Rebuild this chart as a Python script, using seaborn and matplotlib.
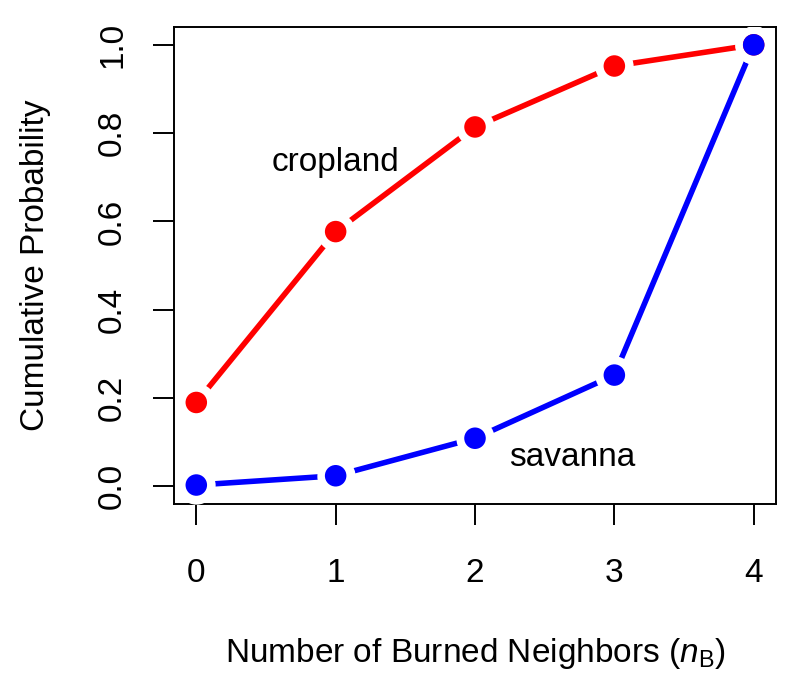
import matplotlib
matplotlib.use("Agg")
import matplotlib.pyplot as plt
import seaborn as sns
import pandas as pd

# data
n_burned = [0, 1, 2, 3, 4]
cropland = [0.190, 0.577, 0.814, 0.952, 1.000]
savanna = [0.003, 0.024, 0.109, 0.252, 1.000]

df = pd.DataFrame({
    "n": n_burned * 2,
    "p": cropland + savanna,
    "type": ["cropland"] * 5 + ["savanna"] * 5,
})
colors = {"cropland": "#FF0000", "savanna": "#0000FF"}

sns.set_style("white")
plt.rcParams["font.family"] = ["Liberation Sans", "DejaVu Sans"]
plt.rcParams["mathtext.fontset"] = "custom"
plt.rcParams["mathtext.rm"] = "Liberation Sans"
plt.rcParams["mathtext.it"] = "Liberation Sans:italic"
plt.rcParams["text.color"] = "black"
plt.rcParams["axes.labelcolor"] = "black"
plt.rcParams["xtick.color"] = "black"
plt.rcParams["ytick.color"] = "black"

fig = plt.figure(figsize=(8, 6.79), dpi=100)
ax = fig.add_axes([0.2175, 0.2577, 0.97 - 0.2175, 0.960 - 0.2577])

sns.lineplot(data=df, x="n", y="p", hue="type", palette=colors, lw=4.0,
             legend=False, ax=ax, zorder=2)
# white halos make the R type="b" gaps round the points
sns.scatterplot(data=df, x="n", y="p", color="white", s=760, linewidth=0,
                legend=False, ax=ax, zorder=3)
sns.scatterplot(data=df, x="n", y="p", hue="type", palette=colors, s=240,
                linewidth=0, legend=False, ax=ax, zorder=4)

ax.text(1.0, 0.733, "cropland", fontsize=24, ha="center", va="center")
ax.text(2.70, 0.066, "savanna", fontsize=24, ha="center", va="center")

ax.set_xlim(-0.16, 4.16)
ax.set_ylim(-0.04, 1.04)
ax.set_xticks(n_burned)
ax.set_yticks([0.0, 0.2, 0.4, 0.6, 0.8, 1.0])
ax.set_yticklabels(["0.0", "0.2", "0.4", "0.6", "0.8", "1.0"], rotation=90, va="center")
ax.tick_params(axis="both", direction="out", length=15, width=1.4, labelsize=24,
               left=True, bottom=True)
ax.tick_params(axis="x", pad=24)
ax.tick_params(axis="y", pad=18)
for s in ax.spines.values():
    s.set_color("black")
    s.set_linewidth(1.4)

ax.set_xlabel(r"Number of Burned Neighbors ($n_\mathrm{B}$)", fontsize=24, labelpad=34)
ax.set_ylabel("Cumulative Probability", fontsize=24, labelpad=33)

fig.savefig("out.png", dpi=100)
